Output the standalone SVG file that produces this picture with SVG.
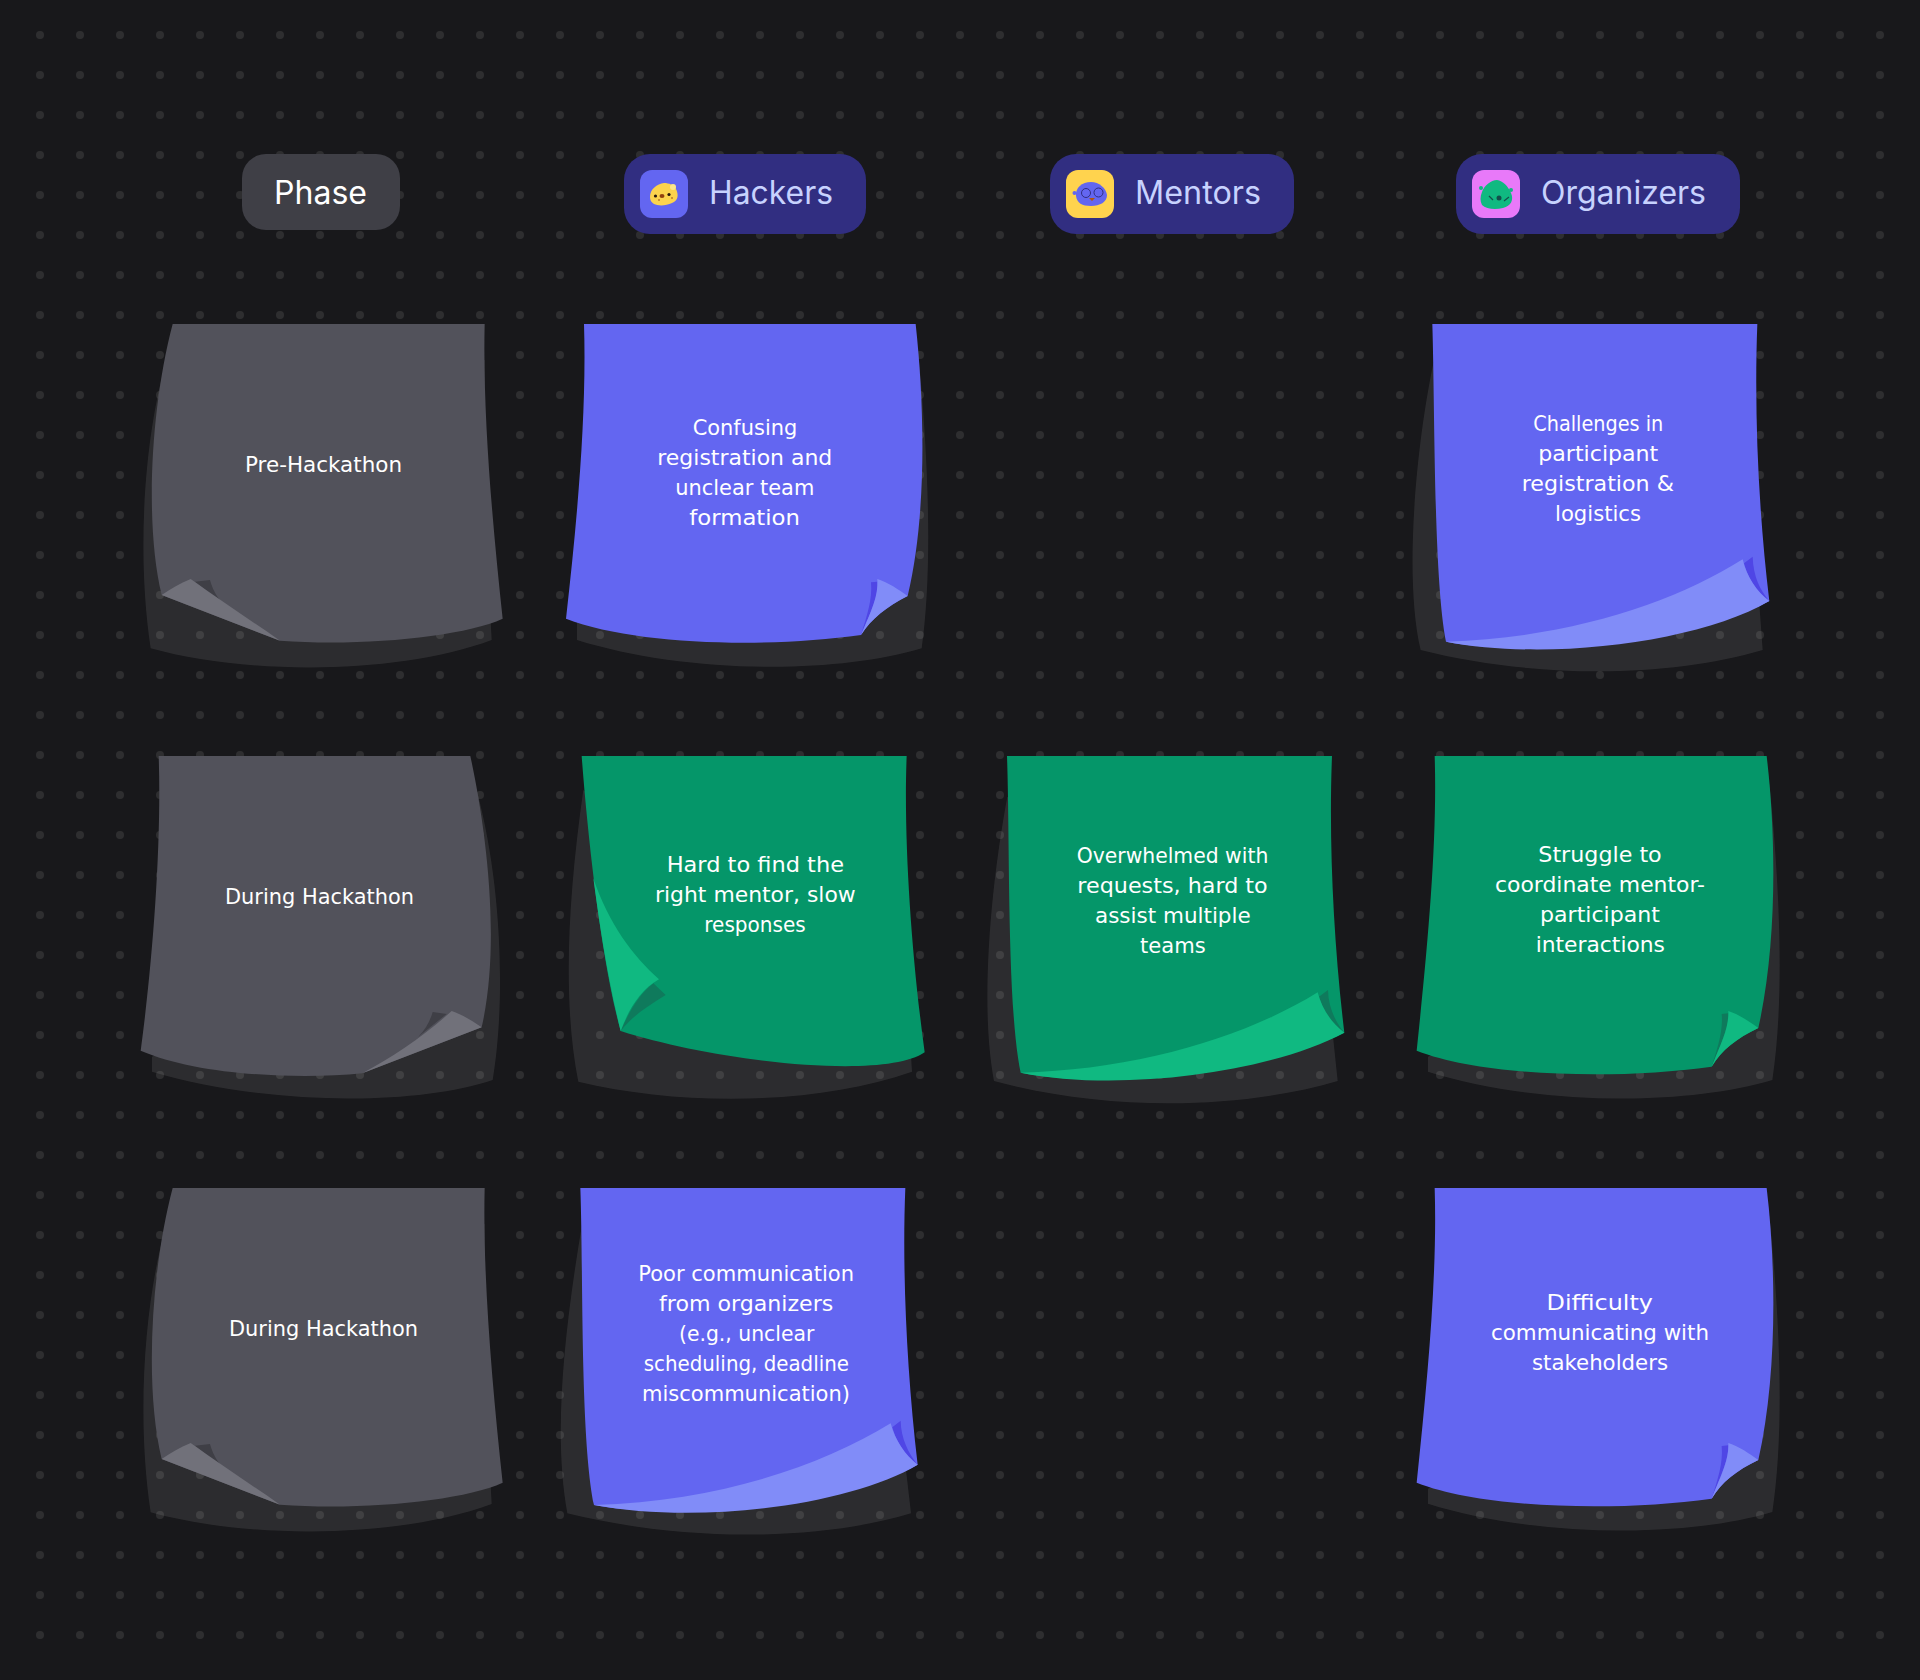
<svg xmlns="http://www.w3.org/2000/svg" width="1920" height="1680" viewBox="0 0 1920 1680">
<style>
.sh{fill:#fff;fill-opacity:.09}
.gb{fill:#52525b}.gf{fill:#71717a}.gd{fill:#3f3f46}
.bb{fill:#6366f1}.bf{fill:#818cf8}.bd{fill:#4f46e5}
.eb{fill:#059669}.ef{fill:#10b981}.ed{fill:#0f7a5c}
.n text{font-family:"DejaVu Sans","Liberation Sans",sans-serif;font-size:21px;fill:#fff;text-anchor:start}
.h{font-family:Inter,"Liberation Sans",sans-serif;font-size:32px}
.hn{fill:#c7d2fe}
.pill{fill:#312e81}
</style>
<defs>
<pattern id="dots" patternUnits="userSpaceOnUse" x="20" y="15" width="40" height="40"><circle cx="20" cy="20" r="4" fill="#2e2e30"/></pattern>
</defs>
<rect width="1920" height="1680" fill="#18181b"/>
<rect x="20" y="15" width="1880" height="1640" fill="url(#dots)"/>

<g id="header-phase"><rect x="242" y="154" width="158" height="76" rx="24" fill="#3f3f46"/><text class="h" x="274" y="204" fill="#fff" textLength="93" lengthAdjust="spacingAndGlyphs">Phase</text></g>

<g id="header-hackers"><rect class="pill" x="624" y="154" width="242" height="80" rx="26"/><rect x="640" y="170" width="48" height="48" rx="12" fill="#6366f1"/>
<path d="M650 197C650 189 657 184 664 183C669 183 674 185 676 189C679 195 678 201 672 203C666 206 658 206 654 204C651 202 650 200 650 197Z" fill="#fcd34d"/><circle cx="673" cy="187" r="3" fill="#fde68a"/><circle cx="655.500" cy="196" r="1.600" fill="#27180f"/><circle cx="669" cy="194.500" r="1.600" fill="#27180f"/><ellipse cx="662" cy="196" rx="2.500" ry="2" fill="#92400e"/><circle cx="659" cy="200" r=".8" fill="#92400e"/><circle cx="672" cy="198" r=".8" fill="#92400e"/>
<text class="h hn" x="709" y="204" textLength="124" lengthAdjust="spacingAndGlyphs">Hackers</text></g>

<g id="header-mentors"><rect class="pill" x="1050" y="154" width="244" height="80" rx="26"/><rect x="1066" y="170" width="48" height="48" rx="12" fill="#ffd34e"/>
<path d="M1076 196C1075 188 1082 182 1091 182C1099 182 1106 188 1107 195C1107 202 1100 206 1091 206C1082 206 1077 203 1076 196Z" fill="#6366f1"/><circle cx="1074.500" cy="193" r="2" fill="#6366f1"/><circle cx="1086" cy="193" r="4.500" fill="none" stroke="#312e81" stroke-width="1"/><circle cx="1098.500" cy="192.500" r="4.500" fill="none" stroke="#312e81" stroke-width="1"/><path d="M1089 198L1095 198L1092 201Z" fill="#b45309"/>
<text class="h hn" x="1135" y="204" textLength="126" lengthAdjust="spacingAndGlyphs">Mentors</text></g>

<g id="header-organizers"><rect class="pill" x="1456" y="154" width="284" height="80" rx="26"/><rect x="1472" y="170" width="48" height="48" rx="12" fill="#e879f9"/>
<path d="M1482 192C1484 186 1491 180 1497 180C1503 181 1508 186 1511 193C1514 200 1511 206 1503 208C1495 210 1486 209 1482 205C1480 201 1480 197 1482 192Z" fill="#10b981"/><circle cx="1481" cy="188" r="2" fill="#10b981"/><circle cx="1511" cy="190" r="2" fill="#10b981"/><circle cx="1499" cy="198" r="2.500" fill="#134e4a"/><path d="M1489 196L1493 200M1504 201L1509 197" stroke="#134e4a" stroke-width="1.200" fill="none"/>
<text class="h hn" x="1541" y="204" textLength="165" lengthAdjust="spacingAndGlyphs">Organizers</text></g>

<g id="note-pre-hackathon" class="n">
<g transform="translate(130 310) scale(.33333)">
<path class="sh" d="M110 150C50 350 15 700 62 1015C350 1095 800 1095 1085 990L1064 600L1064 150Z"/>
<path class="gb" d="M128 42L1064 42C1058 300 1085 620 1118 926C1000 980 700 1010 450 992L95 855C45 650 60 300 128 42Z"/>
<path class="gd" d="M195 815L240 810C250 845 265 870 290 890Z"/>
<path class="gf" d="M450 992C360 930 270 870 182 807C150 820 120 838 95 855Z"/>
</g>
<text x="245" y="472" textLength="157" lengthAdjust="spacingAndGlyphs">Pre-Hackathon</text>
</g>

<g id="note-confusing" class="n">
<g transform="translate(550 310) scale(.33333)">
<path class="sh" d="M81 990C400 1090 850 1095 1115 1015C1145 800 1140 500 1105 130L1000 300L81 900Z"/>
<path class="bb" d="M102 42L1097 42C1125 300 1130 620 1073 858C1010 890 965 925 933 975C650 1015 250 1005 48 926C85 600 110 300 102 42Z"/>
<path class="bd" d="M963 817L982 815C985 860 965 900 933 975C950 920 968 870 963 817Z"/>
<path class="bf" d="M933 975C965 900 985 860 982 807C1015 818 1045 838 1073 858C1010 890 965 925 933 975Z"/>
</g>
<text x="692.700" y="435" textLength="104.600" lengthAdjust="spacingAndGlyphs">Confusing</text>
<text x="657.300" y="465" textLength="175" lengthAdjust="spacingAndGlyphs">registration and</text>
<text x="675.300" y="495" textLength="139" lengthAdjust="spacingAndGlyphs">unclear team</text>
<text x="689.300" y="525" textLength="110.700" lengthAdjust="spacingAndGlyphs">formation</text>
</g>

<g id="note-challenges" class="n">
<g transform="translate(1400 310) scale(.33333)">
<path class="sh" d="M100 160C50 400 10 800 62 1020C400 1105 800 1105 1088 1020L1072 800L1068 100Z"/>
<path class="bb" d="M97 42L1072 42C1062 300 1075 600 1108 873C900 985 400 1045 138 995C100 800 105 300 97 42Z"/>
<path class="bd" d="M1032 760L1058 740C1060 800 1080 840 1108 873C1070 845 1045 810 1032 760Z"/>
<path class="bf" d="M1108 873C900 995 450 1055 138 995C500 985 820 880 1028 748C1040 800 1070 845 1108 873Z"/>
</g>
<text x="1533.300" y="431" textLength="130" lengthAdjust="spacingAndGlyphs">Challenges in</text>
<text x="1538.300" y="461" textLength="120" lengthAdjust="spacingAndGlyphs">participant</text>
<text x="1521.700" y="491" textLength="152.300" lengthAdjust="spacingAndGlyphs">registration &amp;</text>
<text x="1555" y="521" textLength="86" lengthAdjust="spacingAndGlyphs">logistics</text>
</g>

<g id="note-during-1" class="n">
<g transform="translate(130 740) scale(.33333)">
<path class="sh" d="M66 950L66 995C400 1095 850 1100 1088 1020C1125 800 1120 450 1040 150L1000 500Z"/>
<path class="gb" d="M86 48L1021 48C1065 250 1115 600 1055 862L697 1000C500 1020 200 1005 32 932C70 650 95 300 86 48Z"/>
<path class="gd" d="M908 816L950 822L865 890C885 870 900 845 908 816Z"/>
<path class="gf" d="M697 1000C790 950 880 890 965 813C1000 825 1030 845 1055 862Z"/>
</g>
<text x="225" y="904" textLength="189" lengthAdjust="spacingAndGlyphs">During Hackathon</text>
</g>

<g id="note-hard" class="n">
<g transform="translate(550 740) scale(.33333)">
<path class="sh" d="M100 150C50 500 40 800 85 1025C400 1100 800 1095 1086 995L1080 900L500 500Z"/>
<path class="eb" d="M95 48L1070 48C1060 300 1085 650 1124 937C1000 1022 500 965 212 873C150 650 110 250 95 48Z"/>
<path class="ed" d="M310 730L347 765C290 800 245 830 212 873C240 810 270 760 310 730Z"/>
<path class="ef" d="M130 415C175 550 250 650 327 718C270 750 235 810 212 873C170 700 150 560 130 415Z"/>
</g>
<text x="666.700" y="872.300" textLength="177.300" lengthAdjust="spacingAndGlyphs">Hard to find the</text>
<text x="655" y="902.300" textLength="200.700" lengthAdjust="spacingAndGlyphs">right mentor, slow</text>
<text x="704.300" y="932.300" textLength="101.400" lengthAdjust="spacingAndGlyphs">responses</text>
</g>

<g id="note-overwhelmed" class="n">
<g transform="translate(970 740) scale(.33333)">
<path class="sh" d="M112 170C60 450 30 800 72 1023C400 1112 800 1112 1103 1023L1088 880L600 500Z"/>
<path class="eb" d="M111 48L1086 48C1076 300 1090 600 1123 878C900 990 400 1050 152 998C110 800 120 300 111 48Z"/>
<path class="ed" d="M1047 770L1074 750C1075 800 1095 845 1123 878C1085 850 1060 815 1047 770Z"/>
<path class="ef" d="M1123 878C900 998 450 1058 152 998C500 990 830 890 1043 757C1055 805 1085 850 1123 878Z"/>
</g>
<text x="1076.700" y="863.300" textLength="191.600" lengthAdjust="spacingAndGlyphs">Overwhelmed with</text>
<text x="1077.300" y="893.300" textLength="190.400" lengthAdjust="spacingAndGlyphs">requests, hard to</text>
<text x="1095" y="923.300" textLength="155.700" lengthAdjust="spacingAndGlyphs">assist multiple</text>
<text x="1140" y="953.300" textLength="65.700" lengthAdjust="spacingAndGlyphs">teams</text>
</g>

<g id="note-struggle" class="n">
<g transform="translate(1400 740) scale(.33333)">
<path class="sh" d="M84 950L84 995C400 1095 850 1100 1117 1020C1150 800 1145 500 1108 130L1000 500Z"/>
<path class="eb" d="M104 48L1100 48C1130 300 1130 620 1075 864C1010 895 965 930 935 980C650 1020 250 1010 50 932C85 600 112 300 104 48Z"/>
<path class="ed" d="M965 822L985 820C985 865 965 905 935 980C952 925 970 875 965 822Z"/>
<path class="ef" d="M935 980C965 905 987 865 985 813C1018 824 1047 844 1075 864C1010 895 965 930 935 980Z"/>
</g>
<text x="1538.300" y="862.300" textLength="123.400" lengthAdjust="spacingAndGlyphs">Struggle to</text>
<text x="1495" y="892.300" textLength="210" lengthAdjust="spacingAndGlyphs">coordinate mentor-</text>
<text x="1540" y="922.300" textLength="120" lengthAdjust="spacingAndGlyphs">participant</text>
<text x="1535.700" y="952.300" textLength="129.300" lengthAdjust="spacingAndGlyphs">interactions</text>
</g>

<g id="note-during-2" class="n">
<g transform="translate(130 1174) scale(.33333)">
<path class="sh" d="M110 150C50 350 15 700 62 1015C350 1095 800 1095 1085 990L1064 600L1064 150Z"/>
<path class="gb" d="M128 42L1064 42C1058 300 1085 620 1118 926C1000 980 700 1010 450 992L95 855C45 650 60 300 128 42Z"/>
<path class="gd" d="M195 815L240 810C250 845 265 870 290 890Z"/>
<path class="gf" d="M450 992C360 930 270 870 182 807C150 820 120 838 95 855Z"/>
</g>
<text x="229" y="1336" textLength="189" lengthAdjust="spacingAndGlyphs">During Hackathon</text>
</g>

<g id="note-poor" class="n">
<g transform="translate(550 1170) scale(.33333)">
<path class="sh" d="M95 170C40 500 10 800 52 1030C400 1115 800 1115 1083 1030L1068 900L600 500Z"/>
<path class="bb" d="M91 54L1066 54C1056 300 1070 600 1103 884C900 995 400 1055 132 1005C90 800 100 300 91 54Z"/>
<path class="bd" d="M1027 772L1052 752C1053 805 1075 850 1103 884C1065 855 1040 820 1027 772Z"/>
<path class="bf" d="M1103 884C900 1005 450 1065 132 1005C500 995 810 890 1022 760C1035 810 1065 855 1103 884Z"/>
</g>
<text x="638.300" y="1281" textLength="215.700" lengthAdjust="spacingAndGlyphs">Poor communication</text>
<text x="659" y="1311" textLength="174.300" lengthAdjust="spacingAndGlyphs">from organizers</text>
<text x="679" y="1341" textLength="135.300" lengthAdjust="spacingAndGlyphs">(e.g., unclear</text>
<text x="643.700" y="1371" textLength="205.300" lengthAdjust="spacingAndGlyphs">scheduling, deadline</text>
<text x="642" y="1401" textLength="208" lengthAdjust="spacingAndGlyphs">miscommunication)</text>
</g>

<g id="note-difficulty" class="n">
<g transform="translate(1400 1172) scale(.33333)">
<path class="sh" d="M84 950L84 995C400 1095 850 1100 1117 1020C1150 800 1145 500 1108 130L1000 500Z"/>
<path class="bb" d="M104 48L1100 48C1130 300 1130 620 1075 864C1010 895 965 930 935 980C650 1020 250 1010 50 932C85 600 112 300 104 48Z"/>
<path class="bd" d="M965 822L985 820C985 865 965 905 935 980C952 925 970 875 965 822Z"/>
<path class="bf" d="M935 980C965 905 987 865 985 813C1018 824 1047 844 1075 864C1010 895 965 930 935 980Z"/>
</g>
<text x="1546.500" y="1310" textLength="106.500" lengthAdjust="spacingAndGlyphs">Difficulty</text>
<text x="1491" y="1340" textLength="218" lengthAdjust="spacingAndGlyphs">communicating with</text>
<text x="1532" y="1370" textLength="136" lengthAdjust="spacingAndGlyphs">stakeholders</text>
</g>
</svg>
